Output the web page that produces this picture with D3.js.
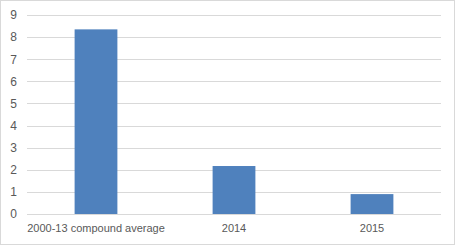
<!DOCTYPE html>
<html>
<head>
<meta charset="utf-8">
<script src="https://cdn.jsdelivr.net/npm/d3@7"></script>
<style>
body{margin:0;background:#fff}
</style>
</head>
<body>
<div id="chart"></div>
<script>
var categories=["2000-13 compound average","2014","2015"]
var values=[8.35,2.17,0.9]
var yTicks=[0,1,2,3,4,5,6,7,8,9]

var width=456,height=246
var margin={top:15,left:27,right:15,bottom:32}

var svg=d3.select("#chart").append("svg")
	.attr("width",width)
	.attr("height",height)

// outer frame
svg.append("rect")
	.attr("x",0.5).attr("y",0.5)
	.attr("width",width-2).attr("height",height-2)
	.attr("fill","#fff")
	.attr("stroke","#d9d9d9")

var x=d3.scaleBand()
	.domain(categories)
	.range([margin.left,width-margin.right])
	.paddingInner(0.69)
	.paddingOuter(0.345)

var y=d3.scaleLinear()
	.domain([0,9])
	.range([height-margin.bottom,margin.top])

var g=svg.append("g")

g.selectAll(".grid")
	.data(yTicks)
	.enter()
	.append("line")
	.attr("x1",margin.left)
	.attr("x2",width-margin.right)
	.attr("y1",function(d){return Math.round(y(d))+0.5})
	.attr("y2",function(d){return Math.round(y(d))+0.5})
	.attr("stroke","#d9d9d9")

g.selectAll(".bar")
	.data(values)
	.enter()
	.append("rect")
	.attr("x",function(d,i){return x(categories[i])})
	.attr("y",function(d){return y(d)})
	.attr("width",x.bandwidth())
	.attr("height",function(d){return y(0)-y(d)})
	.attr("fill","#4f81bd")

var yAxis=d3.axisLeft(y).tickValues(yTicks).tickSize(0).tickPadding(0)
svg.append("g")
	.attr("transform","translate(17,0)")
	.call(yAxis)
	.call(function(s){s.select(".domain").remove()})
	.selectAll("text")
	.attr("font-family","Liberation Sans, sans-serif")
	.attr("font-size","12px")
	.attr("fill","#595959")

var xAxis=d3.axisBottom(x).tickSize(0).tickPadding(0)
svg.append("g")
	.attr("transform","translate(0,"+(height-margin.bottom+10)+")")
	.call(xAxis)
	.call(function(s){s.select(".domain").remove()})
	.selectAll("text")
	.attr("font-family","Liberation Sans, sans-serif")
	.attr("font-size","11px")
	.attr("fill","#595959")
</script>
</body>
</html>
